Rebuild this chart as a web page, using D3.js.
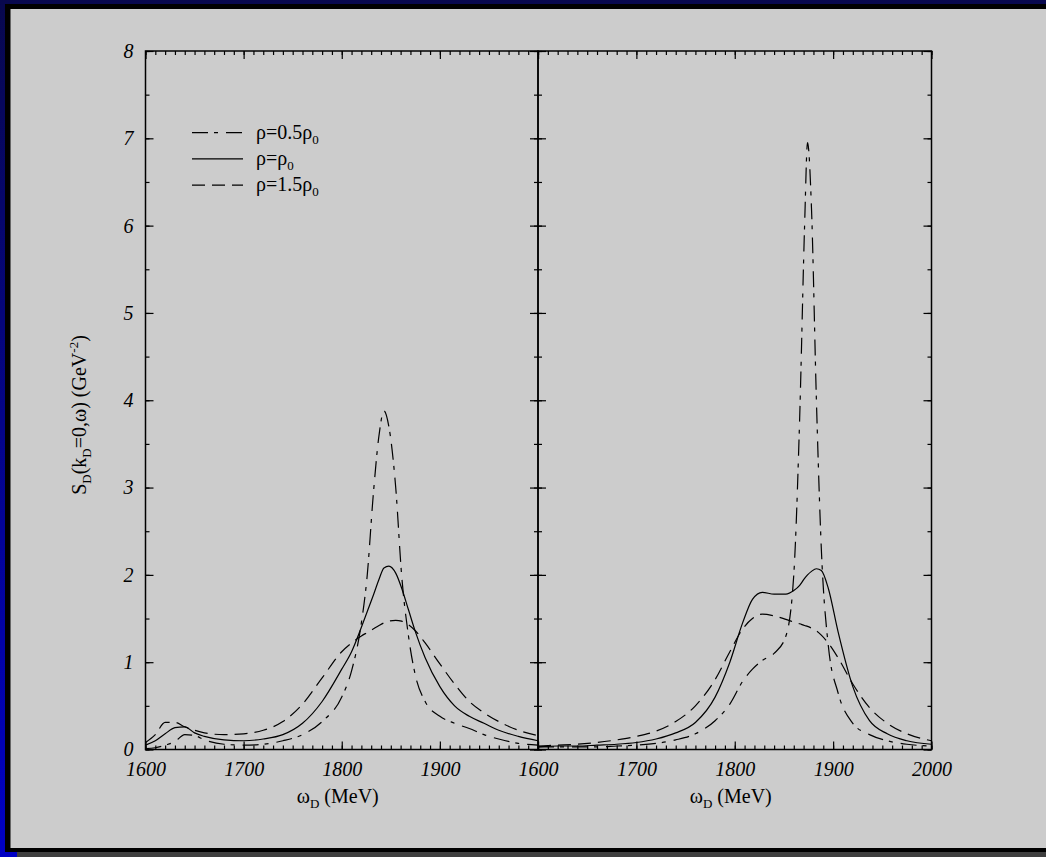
<!DOCTYPE html>
<html>
<head>
<meta charset="utf-8">
<script src="https://cdn.jsdelivr.net/npm/d3@7"></script>
<style>
  html, body { margin: 0; padding: 0; background: #000050; }
  body { width: 1046px; height: 857px; overflow: hidden; }
</style>
</head>
<body>
<div id="chart"></div>
<script>
'use strict';

// omega_D grid (MeV) and S_D values (GeV^-2)
const leftOmega  = [1600, 1610, 1620, 1630, 1640, 1650, 1660, 1680, 1700, 1720, 1740, 1760, 1780, 1800, 1810, 1820, 1826, 1832, 1838, 1843, 1848, 1855, 1861, 1868, 1875, 1885, 1900, 1915, 1930, 1945, 1960, 1980, 2000];
const leftHalf   = [0.01, 0.02, 0.05, 0.09, 0.17, 0.16, 0.11, 0.06, 0.05, 0.06, 0.10, 0.17, 0.32, 0.60, 0.90, 1.45, 2.00, 2.90, 3.60, 3.88, 3.70, 3.00, 2.00, 1.30, 0.85, 0.55, 0.38, 0.30, 0.24, 0.17, 0.12, 0.07, 0.05];
const leftNormal = [0.05, 0.10, 0.18, 0.25, 0.26, 0.19, 0.15, 0.11, 0.10, 0.12, 0.17, 0.30, 0.55, 0.92, 1.12, 1.40, 1.58, 1.76, 1.95, 2.08, 2.10, 2.02, 1.85, 1.60, 1.35, 1.05, 0.72, 0.50, 0.38, 0.30, 0.22, 0.15, 0.10];
const leftDense  = [0.08, 0.17, 0.31, 0.31, 0.26, 0.22, 0.19, 0.17, 0.18, 0.22, 0.32, 0.52, 0.82, 1.12, 1.22, 1.30, 1.34, 1.38, 1.42, 1.45, 1.47, 1.48, 1.47, 1.43, 1.36, 1.22, 0.98, 0.75, 0.55, 0.42, 0.32, 0.22, 0.16];

const rightOmega  = [1600, 1620, 1640, 1660, 1680, 1700, 1720, 1740, 1760, 1780, 1795, 1808, 1818, 1828, 1840, 1852, 1860, 1866, 1871, 1874, 1878, 1883, 1888, 1895, 1905, 1920, 1937, 1955, 1975, 2000];
const rightHalf   = [0.03, 0.03, 0.03, 0.03, 0.04, 0.05, 0.07, 0.11, 0.18, 0.33, 0.52, 0.78, 0.92, 1.02, 1.10, 1.30, 2.00, 3.80, 6.00, 6.95, 6.20, 4.00, 2.30, 1.20, 0.65, 0.30, 0.17, 0.10, 0.06, 0.04];
const rightNormal = [0.03, 0.04, 0.04, 0.05, 0.06, 0.08, 0.12, 0.19, 0.31, 0.60, 1.00, 1.45, 1.72, 1.80, 1.78, 1.78, 1.82, 1.88, 1.96, 2.00, 2.04, 2.07, 2.05, 1.85, 1.35, 0.72, 0.33, 0.18, 0.10, 0.06];
const rightDense  = [0.04, 0.05, 0.06, 0.08, 0.11, 0.15, 0.21, 0.32, 0.50, 0.80, 1.12, 1.38, 1.50, 1.55, 1.53, 1.49, 1.46, 1.44, 1.42, 1.41, 1.39, 1.36, 1.31, 1.22, 1.05, 0.75, 0.48, 0.30, 0.18, 0.10];

const densityLabels = ['0.5', '', '1.5'];
const xTicksLeft  = [1600, 1700, 1800, 1900];
const xTicksRight = [1600, 1700, 1800, 1900, 2000];
const yTicks      = [0, 1, 2, 3, 4, 5, 6, 7, 8];

// line styles for the three densities
const dashes = ['16,6,4,8', null, '13,7'];
const serif = '"Liberation Serif", "Times New Roman", serif';

class SpectrumPanel {

    constructor (svg, left, right)
    {
        this.svg = svg;
        this.top = 51;
        this.bottom = 749.5;
        this.left = left;
        this.right = right;
        this.xScale = d3.scaleLinear().domain([1600, 2000]).range([left, right]);
        this.yScale = d3.scaleLinear().domain([0, 8]).range([this.bottom, this.top]);
    }

    tickRange (a, b, step)
    {
        return d3.range(a, b + step / 2, step);
    }

    styleText (g, italic)
    {
        g.selectAll('text')
            .attr('font-family', serif)
            .attr('font-size', 20)
            .attr('font-style', italic ? 'italic' : 'normal')
            .attr('fill', '#000');
    }

    axis (gen, transform, values, size, labels, padding)
    {
        let g = this.svg.append('g')
            .attr('transform', transform)
            .call(gen.tickValues(values).tickSize(-size).tickPadding(padding || 3)
                     .tickFormat(labels ? d3.format('d') : ''));
        g.select('.domain').remove();
        g.selectAll('.tick line').attr('stroke', '#000').attr('stroke-width', 1.2);
        return g;
    }

    drawAxes (xLabels, yLabels)
    {
        let xMinor = this.tickRange(1600, 2000, 10),
            xMajor = this.tickRange(1600, 2000, 100),
            yMinor = this.tickRange(0, 8, 0.5);

        // bottom
        this.axis(d3.axisBottom(this.xScale), 'translate(0,' + this.bottom + ')', xMinor, 4, false);
        this.axis(d3.axisBottom(this.xScale), 'translate(0,' + this.bottom + ')', xMajor, 8, false);
        // top
        this.axis(d3.axisTop(this.xScale), 'translate(0,' + this.top + ')', xMinor, 4, false);
        this.axis(d3.axisTop(this.xScale), 'translate(0,' + this.top + ')', xMajor, 8, false);
        // left / right
        this.axis(d3.axisLeft(this.yScale), 'translate(' + this.left + ',0)', yMinor, 4, false);
        this.axis(d3.axisRight(this.yScale), 'translate(' + this.right + ',0)', yMinor, 4, false);
        this.axis(d3.axisRight(this.yScale), 'translate(' + this.right + ',0)', yTicks, 8, false);
        let gy = this.axis(d3.axisLeft(this.yScale), 'translate(' + this.left + ',0)', yTicks, 8, !!yLabels, 12);
        this.styleText(gy, true);

        let gl = this.axis(d3.axisBottom(this.xScale), 'translate(0,' + this.bottom + ')', xLabels, 0, true, 12);
        this.styleText(gl, true);

        this.svg.append('rect')
            .attr('x', this.left)
            .attr('y', this.top)
            .attr('width', this.right - this.left)
            .attr('height', this.bottom - this.top)
            .attr('fill', 'none')
            .attr('stroke', '#000')
            .attr('stroke-width', 1.5);
    }

    drawCurves (omega, seriesList)
    {
        let line = d3.line()
            .x(d => this.xScale(d[0]))
            .y(d => this.yScale(d[1]))
            .curve(d3.curveMonotoneX);

        seriesList.forEach((values, i) => {
            this.svg.append('path')
                .datum(omega.map((w, k) => [w, values[k]]))
                .attr('d', line)
                .attr('fill', 'none')
                .attr('stroke', '#000')
                .attr('stroke-width', 1.2)
                .attr('stroke-dasharray', dashes[i]);
        });
    }

    drawTitle ()
    {
        let cx = (this.left + this.right) / 2 - 4;
        let t = this.svg.append('text')
            .attr('x', cx)
            .attr('y', 803)
            .attr('text-anchor', 'middle')
            .attr('font-family', serif)
            .attr('font-size', 20);
        richText(t, [['ω'], ['D', 'sub'], [' (MeV)']]);
    }
}

function richText (t, parts)
{
    let shift = 0;
    parts.forEach(p => {
        let target = p[1] === 'sub' ? 5 : (p[1] === 'sup' ? -8 : 0);
        t.append('tspan')
            .attr('dy', target - shift)
            .attr('font-size', p[1] ? 13 : null)
            .text(p[0]);
        shift = target;
    });
}

const W = 1046, H = 857;

let svg = d3.select('#chart').append('svg')
    .attr('width', W)
    .attr('height', H)
    .style('display', 'block');

// slide background: blue gradient, shadow, black frame, grey sheet
let grad = svg.append('defs').append('linearGradient')
    .attr('id', 'slideBlue')
    .attr('x1', 0).attr('y1', 0).attr('x2', 0).attr('y2', 1);
grad.append('stop').attr('offset', 0).attr('stop-color', '#08084e');
grad.append('stop').attr('offset', 1).attr('stop-color', '#0000c4');

svg.append('rect').attr('width', W).attr('height', H).attr('fill', 'url(#slideBlue)');
svg.append('rect').attr('x', 17).attr('y', 14).attr('width', W).attr('height', H).attr('fill', '#3f3f3f');
svg.append('rect').attr('x', 5).attr('y', 4).attr('width', W).attr('height', 848).attr('fill', '#000');
svg.append('rect').attr('x', 10.5).attr('y', 9).attr('width', W).attr('height', 839).attr('fill', '#cccccc');

let leftPanel = new SpectrumPanel(svg, 145.5, 538);
leftPanel.drawAxes(xTicksLeft, true);
leftPanel.drawCurves(leftOmega, [leftHalf, leftNormal, leftDense]);
leftPanel.drawTitle();

let rightPanel = new SpectrumPanel(svg, 538, 931.5);
rightPanel.drawAxes(xTicksRight, false);
rightPanel.drawCurves(rightOmega, [rightHalf, rightNormal, rightDense]);
rightPanel.drawTitle();

// y axis title
let yTitle = svg.append('text')
    .attr('transform', 'translate(86,415) rotate(-90)')
    .attr('text-anchor', 'middle')
    .attr('font-family', serif)
    .attr('font-size', 20);
richText(yTitle, [['S'], ['D', 'sub'], ['(k'], ['D', 'sub'], ['=0,ω) (GeV'], ['-2', 'sup'], [')']]);

// legend
let legend = svg.append('g');
densityLabels.forEach((lab, i) => {
    let y = 132.7 + i * 26.2;
    legend.append('line')
        .attr('x1', 192).attr('x2', 243)
        .attr('y1', y).attr('y2', y)
        .attr('stroke', '#000')
        .attr('stroke-width', 1.2)
        .attr('stroke-dasharray', dashes[i]);
    let t = legend.append('text')
        .attr('x', 256)
        .attr('y', y + 6)
        .attr('font-family', serif)
        .attr('font-size', 20);
    richText(t, [['ρ=' + lab + 'ρ'], ['0', 'sub']]);
});
</script>
</body>
</html>
